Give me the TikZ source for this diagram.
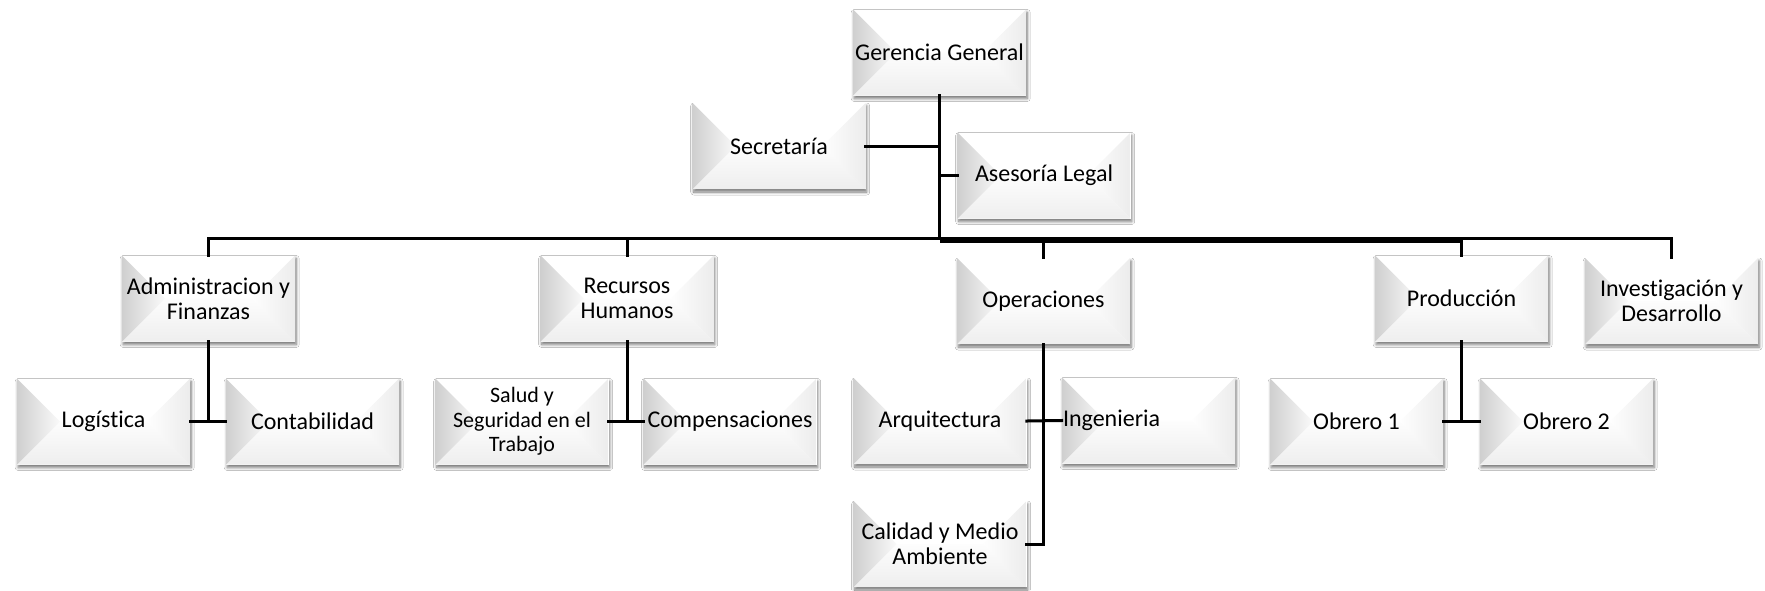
\documentclass[tikz,border=0pt]{standalone}
\usepackage{fontspec}
\setmainfont{Carlito}[Ligatures=NoCommon]
\usetikzlibrary{shadows.blur}

\definecolor{bevleft}{HTML}{CFCFCF}
\definecolor{bevleftin}{HTML}{FAFAFA}
\definecolor{bevbottom}{HTML}{EEEEEE}
\definecolor{bevbottomin}{HTML}{FDFDFD}
\definecolor{bevright}{HTML}{ECECEC}
\definecolor{bevrightin}{HTML}{FEFEFE}

\newcommand\orgfont{\fontsize{12}{12.5}\selectfont}

\tikzset{
  orgbox/.style={
    rectangle, minimum width=86.5pt, minimum height=43pt, inner sep=1pt,
    align=center, font=\orgfont, fill=white,
    blur shadow={shadow xshift=0.6pt, shadow yshift=-1.5pt,
                 shadow blur radius=1.5pt, shadow opacity=55, shadow blur steps=6},
    path picture={
      \coordinate (pnw) at (path picture bounding box.north west);
      \coordinate (pne) at (path picture bounding box.north east);
      \coordinate (psw) at (path picture bounding box.south west);
      \coordinate (pse) at (path picture bounding box.south east);
      \coordinate (pw)  at (path picture bounding box.west);
      \coordinate (pe)  at (path picture bounding box.east);
      % bottom facet
      \shade[top color=bevbottomin, bottom color=bevbottom]
        (psw) -- ([xshift=21.5pt]pw) -- ([xshift=-21.5pt]pe) -- (pse) -- cycle;
      % right facet
      \shade[left color=bevrightin, right color=bevright]
        (pne) -- ([xshift=-21.5pt]pe) -- (pse) -- cycle;
      % left facet
      \shade[left color=bevleft, right color=bevleftin]
        (pnw) -- ([xshift=21.5pt]pw) -- (psw) -- cycle;
    }
  },
  leftbox/.style={orgbox, text width=85.5pt, inner xsep=0.5pt, align=left},
  conn/.style={line width=1.5pt, line cap=rect},
  mainbar/.style={line width=3pt},
}

\begin{document}
\begin{tikzpicture}[x=0.5pt, y=-0.5pt]
\useasboundingbox (0,0) rectangle (1765,590);
\fill[white] (0,0) rectangle (1765,590);

% height of the level bar
\coordinate (bar) at (939.5,238.5);

% top level
\node[orgbox] (gg)  at (939.5,52.5)  {Gerencia General};
\node[orgbox] (sec) at (779,146)     {Secretaría};
\node[orgbox] (ase) at (1044,175.5)  {Asesoría Legal};

% departments
\node[orgbox] (adm) at (208.5,298.5) {Administracion y\\Finanzas};
\node[orgbox] (rh)  at (627,298.5)   {Recursos\\Humanos};
\node[orgbox] (ope) at (1043.5,301)  {Operaciones};
\node[orgbox] (pro) at (1461.5,298.5){Producción};
\node[orgbox] (inv) at (1671.5,301)  {Investigación y\\Desarrollo};

% units
\node[orgbox] (log) at (103.5,421.5) {Logística};
\node[orgbox] (con) at (312.5,421.5) {Contabilidad};
\node[orgbox, font=\fontsize{11}{12.25}\selectfont] (sal) at (522,421.5) {Salud y\\Seguridad en el\\Trabajo};
\node[orgbox] (com) at (730,421.5)   {Compensaciones};
\node[orgbox] (arq) at (940,421)     {Arquitectura};
\node[leftbox] (ing) at (1148.5,420.5) {Ingenieria};
\node[orgbox] (cal) at (940,544)     {Calidad y Medio\\Ambiente};
\node[orgbox] (ob1) at (1356.5,421.5){Obrero 1};
\node[orgbox] (ob2) at (1566.5,421.5){Obrero 2};

% trunk and staff links
\draw[conn] (gg.south) -- (gg.south |- bar);
\draw[conn] (sec.east) -- (sec.east -| gg.south);
\draw[conn] (ase.west -| gg.south) -- (ase.west);

% level bar and drops to the departments
\draw[conn] (adm.north) -- (adm.north |- bar) -- (inv.north |- bar) -- (inv.north);
\draw[mainbar] ([yshift=-0.75pt]gg.south |- bar) -- ([yshift=-0.75pt]pro.north |- bar);
\draw[conn] (rh.north |- bar) -- (rh.north);
\draw[conn] (ope.north |- bar) -- (ope.north);
\draw[conn] (pro.north |- bar) -- (pro.north);

% units under each department
\draw[conn] (adm.south) -- (adm.south |- log.east);
\draw[conn] (log.east) -- (con.west);
\draw[conn] (rh.south) -- (rh.south |- sal.east);
\draw[conn] (sal.east) -- (com.west);
\draw[conn] (ope.south) |- (cal.east);
\draw[conn] (arq.east) -- (ing.west);
\draw[conn] (pro.south) -- (pro.south |- ob1.east);
\draw[conn] (ob1.east) -- (ob2.west);
\end{tikzpicture}
\end{document}
